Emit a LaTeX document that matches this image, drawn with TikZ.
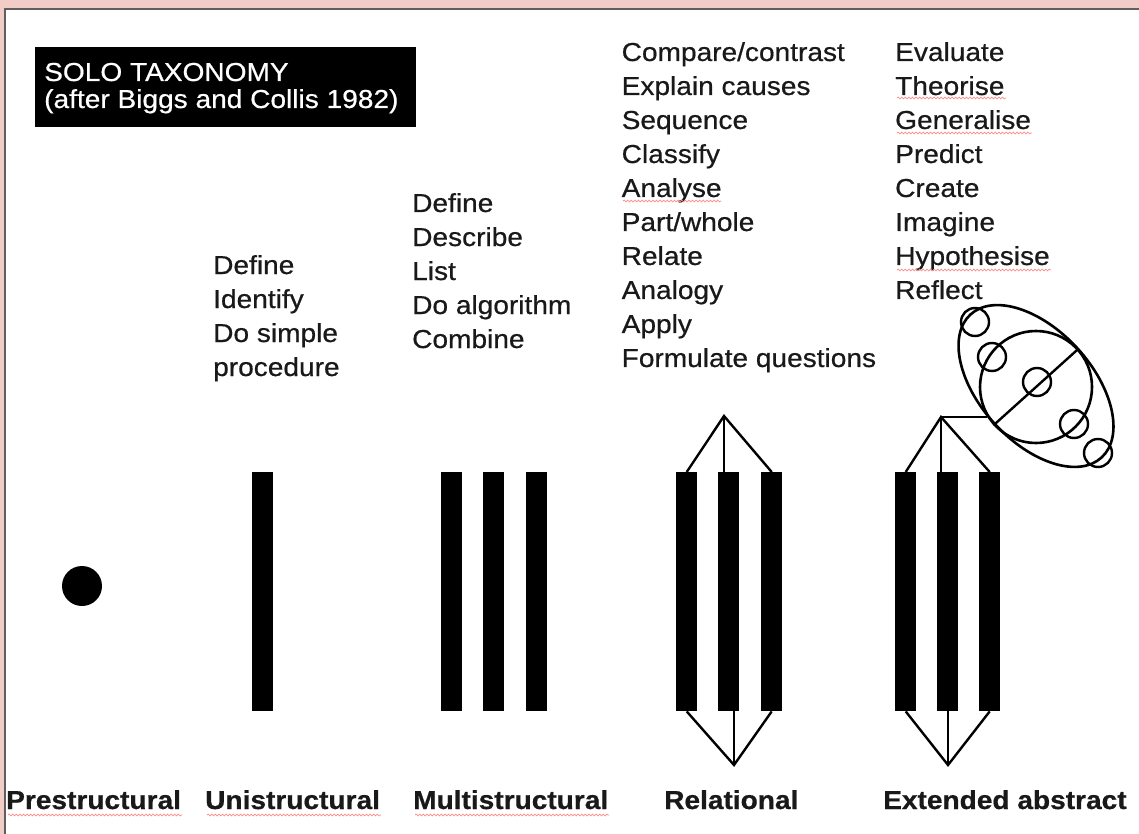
\documentclass[tikz,border=0pt]{standalone}
\usepackage{fontspec}
\setmainfont{Liberation Sans}[FakeStretch=1.08, FakeBold=0.6]
\usetikzlibrary{shapes.geometric,decorations.pathmorphing}
\definecolor{pinkbg}{RGB}{242,205,200}
\definecolor{framegray}{RGB}{95,95,95}
\definecolor{txt}{RGB}{25,25,25}
\newcommand\wl[1]{\hbox{#1}}
\tikzset{
  lst/.style={anchor=base west, inner sep=0pt, text=txt, font=\fontsize{26}{34}\selectfont},
  lvl/.style={anchor=base west, inner sep=0pt, text=txt, font=\fontsize{26}{34}\selectfont\bfseries},
  barbox/.style={fill=black, inner sep=0pt, minimum width=21pt, minimum height=239pt, anchor=north west},
  conn/.style={line width=2.4pt, black},
  ring/.style={draw, line width=2.6pt, inner sep=0pt},
  small/.style={draw, circle, line width=2.4pt, inner sep=0pt, minimum size=28pt},
  squig/.style={draw=red!45, line width=0.7pt, decorate, decoration={snake, amplitude=0.9pt, segment length=3.6pt}}
}
\begin{document}
\begin{tikzpicture}[x=1pt,y=-1pt]
\useasboundingbox (0,0) rectangle (1139,834);
\fill[pinkbg] (0,0) rectangle (1139,834);
\fill[white] (5,9) rectangle (1139,834);
\draw[framegray, line width=2pt] (1139,9) -- (5,9) -- (5,834);

% title
\node[fill=black, inner sep=0pt, minimum width=381pt, minimum height=80pt, anchor=north west] (titlebox) at (35,47) {};
\node[anchor=base west, inner sep=0pt, text=white, font=\fontsize{26}{27}\selectfont] (title) at (44,81)
  {\vtop{\wl{SOLO TAXONOMY}\wl{(after Biggs and Collis 1982)}}};

% verb lists
\node[lst] (unitext) at (213,274) {\vtop{\wl{Define}\wl{Identify}\wl{Do simple}\wl{procedure}}};
\node[lst] (multitext) at (412,212) {\vtop{\wl{Define}\wl{Describe}\wl{List}\wl{Do algorithm}\wl{Combine}}};
\node[lst] (reltext) at (621.5,61) {\vtop{\wl{Compare/contrast}\wl{Explain causes}\wl{Sequence}\wl{Classify}\wl{Analyse}\wl{Part/whole}\wl{Relate}\wl{Analogy}\wl{Apply}\wl{Formulate questions}}};
\node[lst] (exttext) at (895,61) {\vtop{\wl{Evaluate}\wl{Theorise}\wl{Generalise}\wl{Predict}\wl{Create}\wl{Imagine}\wl{Hypothesise}\wl{Reflect}}};

% level labels
\node[lvl] (pre) at (6,809) {Prestructural};
\node[lvl] (uni) at (205,809) {Unistructural};
\node[lvl] (multi) at (413,809) {Multistructural};
\node[lvl] (rel) at (664,809) {Relational};
\node[lvl] (ext) at (883,809) {Extended abstract};

% spell-check squiggles
\path[squig] (623,201) -- (721,201);
\path[squig] (897,98) -- (1006,98);
\path[squig] (897,133) -- (1032,133);
\path[squig] (897,270) -- (1051,270);
\path[squig] (8,815) -- (182,815);
\path[squig] (207,815) -- (381,815);
\path[squig] (415,815) -- (609,815);

% prestructural dot
\node[fill=black, circle, inner sep=0pt, minimum size=40pt] (dot) at (82,586) {};

% unistructural
\node[barbox] (u1) at (252,472) {};
% multistructural
\node[barbox] (m1) at (441,472) {};
\node[barbox] (m2) at (483,472) {};
\node[barbox] (m3) at (526,472) {};
% relational
\node[barbox] (r1) at (676,472) {};
\node[barbox] (r2) at (718,472) {};
\node[barbox] (r3) at (761,472) {};
\coordinate (rtop) at (724,416);
\coordinate (rbot) at (734,765);
\draw[conn] (r1.north) -- (rtop) -- (r3.north);
\draw[conn] (rtop) -- (rtop |- r2.north);
\draw[conn] (r1.south) -- (rbot) -- (r3.south);
\draw[conn] (rbot) -- (rbot |- r2.south);
% extended abstract
\node[barbox] (e1) at (895,472) {};
\node[barbox] (e2) at (937,472) {};
\node[barbox] (e3) at (979,472) {};
\coordinate (etop) at (941,417);
\coordinate (ebot) at (948,765);
\coordinate (ehook) at (987,417);
\draw[conn] (e1.north) -- (etop) -- (e3.north);
\draw[conn] (etop) -- (etop |- e2.north);
\draw[conn] (etop) -- (ehook);
\draw[conn] (e1.south) -- (ebot) -- (e3.south);
\draw[conn] (ebot) -- (ebot |- e2.south);

% abstract structure
\node[ring, ellipse, minimum width=194pt, minimum height=112pt, rotate=-47.5] (outer) at (1036,386) {};
\node[ring, circle, minimum size=112pt] (inner) at (1036,387) {};
\draw[conn] (inner.42.5) -- (inner.222.5);
\node[small] (c1) at (975,322) {};
\node[small] (c2) at (992,357) {};
\node[small] (c3) at (1037,382) {};
\node[small] (c4) at (1074,424) {};
\node[small] (c5) at (1098,453) {};
\end{tikzpicture}
\end{document}
